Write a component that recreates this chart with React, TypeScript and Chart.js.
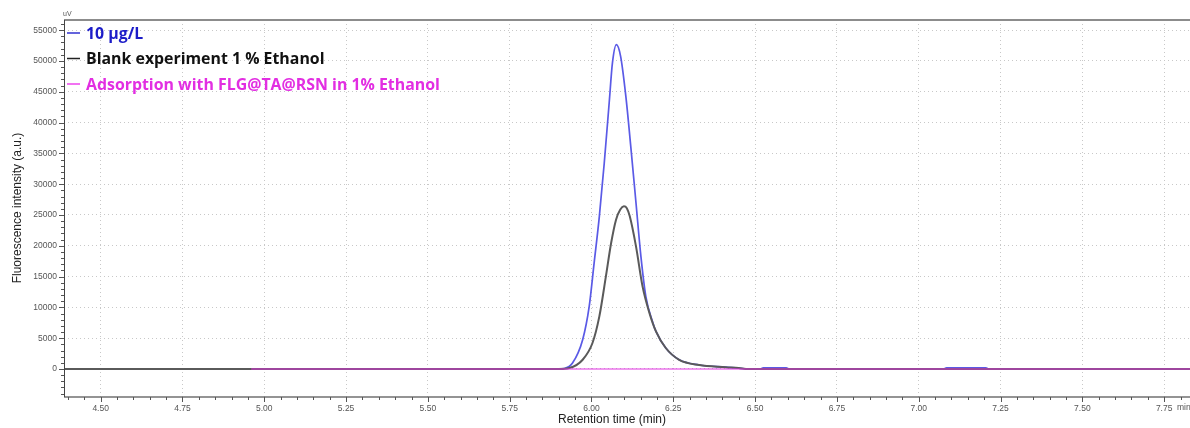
import React, { useEffect, useRef } from 'react';
import { Chart, registerables } from 'chart.js';

Chart.register(...registerables);

// ---- data (retention time in min, fluorescence intensity in a.u.) ----
const standardX = [4.96, 5.9, 5.917, 5.942, 5.973, 5.993, 6.008, 6.024, 6.039, 6.054, 6.064, 6.076, 6.089, 6.105, 6.12, 6.136, 6.151, 6.166, 6.187, 6.197, 6.227, 6.268, 6.329, 6.41, 6.45, 6.48, 6.515, 6.525, 6.595, 6.605, 7.075, 7.085, 7.205, 7.215, 7.829];
const standardY = [0, 0, 80, 974, 4760, 10160, 17200, 24780, 33440, 43180, 49680, 52650, 50750, 44250, 36140, 26950, 18280, 11790, 7600, 6100, 3410, 1500, 650, 300, 150, 0, 0, 200, 200, 0, 0, 200, 200, 0, 0];

const blankX = [4.388, 5.9, 5.932, 5.973, 6.003, 6.024, 6.044, 6.06, 6.075, 6.088, 6.099, 6.108, 6.117, 6.136, 6.156, 6.177, 6.197, 6.227, 6.268, 6.329, 6.41, 6.45, 6.48, 7.829];
const blankY = [0, 0, 150, 1500, 4220, 8540, 15030, 20450, 24240, 25900, 26400, 26100, 24780, 19900, 13410, 9090, 6100, 3410, 1500, 650, 300, 150, 0, 0];

const adsorptionX = [4.96, 7.829];
const adsorptionY = [0, 0];

const seriesLabels = ['10 µg/L', 'Blank experiment 1 % Ethanol', 'Adsorption with FLG@TA@RSN in 1% Ethanol'];
const xTickValues = [4.5, 4.75, 5.0, 5.25, 5.5, 5.75, 6.0, 6.25, 6.5, 6.75, 7.0, 7.25, 7.5, 7.75];
const yTickValues = [0, 5000, 10000, 15000, 20000, 25000, 30000, 35000, 40000, 45000, 50000, 55000];
const xTitle = 'Retention time (min)';
const yTitle = 'Fluorescence intensity (a.u.)';
const yUnit = 'uV';
const xUnit = 'min';

const X_MIN = 4.388;
const X_MAX = 7.829;
const Y_MIN = -4545;
const Y_MAX = 56650;

const toPoints = (xs: number[], ys: number[]) => xs.map((x, i) => ({ x, y: ys[i] }));

const decorPlugin = {
  id: 'decor',
  afterDraw(chart: any) {
    const { ctx, chartArea, scales } = chart;
    const xs = scales.x;
    const ys = scales.y;
    const { left, right, top, bottom } = chartArea;
    ctx.save();
    // frame
    ctx.strokeStyle = '#8c8c8c';
    ctx.lineWidth = 2;
    ctx.beginPath();
    ctx.moveTo(left, top);
    ctx.lineTo(right, top);
    ctx.stroke();
    ctx.strokeStyle = '#707070';
    ctx.lineWidth = 1.5;
    ctx.beginPath();
    ctx.moveTo(left, bottom);
    ctx.lineTo(right, bottom);
    ctx.stroke();
    ctx.strokeStyle = '#444';
    ctx.lineWidth = 1;
    ctx.beginPath();
    ctx.moveTo(left + 0.5, top);
    ctx.lineTo(left + 0.5, bottom);
    ctx.stroke();

    // x tick marks (major every 0.25, minor every 0.05)
    ctx.strokeStyle = '#555';
    ctx.lineWidth = 1;
    for (let k = 88; k <= 156; k++) {
      const v = k * 0.05;
      const px = Math.round(xs.getPixelForValue(v)) + 0.5;
      if (px < left || px > right) continue;
      const major = k % 5 === 0;
      ctx.beginPath();
      ctx.moveTo(px, bottom);
      ctx.lineTo(px, bottom + (major ? 5 : 3));
      ctx.stroke();
    }
    // y tick marks (major every 5000, minor every 1000)
    for (let k = -4; k <= 56; k++) {
      const v = k * 1000;
      const py = Math.round(ys.getPixelForValue(v)) + 0.5;
      if (py < top || py > bottom) continue;
      const major = k % 5 === 0;
      ctx.beginPath();
      ctx.moveTo(left, py);
      ctx.lineTo(left - (major ? 5 : 3), py);
      ctx.stroke();
    }

    // units
    ctx.fillStyle = '#555';
    ctx.font = '7px "Liberation Sans", Arial, sans-serif';
    ctx.textAlign = 'left';
    ctx.textBaseline = 'middle';
    ctx.fillText(yUnit, left - 1, 14);
    ctx.font = '8.5px "Liberation Sans", Arial, sans-serif';
    ctx.fillText(xUnit, 1177, bottom + 11);

    // axis titles
    ctx.fillStyle = '#222';
    ctx.font = '12px "Liberation Sans", Arial, sans-serif';
    ctx.textAlign = 'center';
    ctx.fillText(xTitle, 612, 420);
    ctx.save();
    ctx.translate(18, 208);
    ctx.rotate(-Math.PI / 2);
    ctx.fillText(yTitle, 0, 0);
    ctx.restore();

    // legend
    const legendColors = ['#1c1cc8', '#111111', '#e22ee2'];
    const dashColors = ['#3030d0', '#222222', '#ee44ee'];
    const legendY = [33, 58.5, 84];
    ctx.font = 'bold 16px "Open Sans", sans-serif';
    const w = ctx.measureText(seriesLabels[2]).width;
    const size = (16 * 354) / w;
    ctx.font = `bold ${size.toFixed(2)}px "Open Sans", sans-serif`;
    ctx.textAlign = 'left';
    ctx.textBaseline = 'middle';
    seriesLabels.forEach((lab, i) => {
      ctx.strokeStyle = dashColors[i];
      ctx.lineWidth = 1.5;
      ctx.beginPath();
      ctx.moveTo(67, legendY[i]);
      ctx.lineTo(80, legendY[i]);
      ctx.stroke();
      ctx.fillStyle = legendColors[i];
      ctx.fillText(lab, 86, legendY[i] + 1);
    });
    ctx.restore();
  },
};

export default function App() {
  const ref = useRef<HTMLCanvasElement | null>(null);
  useEffect(() => {
    if (!ref.current) return;
    const chart = new Chart(ref.current, {
      type: 'line',
      data: {
        datasets: [
          {
            label: seriesLabels[0],
            data: toPoints(standardX, standardY),
            borderColor: '#5a5ae6',
            borderWidth: 1.7,
            pointRadius: 0,
            cubicInterpolationMode: 'monotone',
            order: 2,
          },
          {
            label: seriesLabels[1],
            data: toPoints(blankX, blankY),
            borderColor: '#5a5a5a',
            borderWidth: 2,
            pointRadius: 0,
            cubicInterpolationMode: 'monotone',
            order: 1,
          },
          {
            label: seriesLabels[2],
            data: toPoints(adsorptionX, adsorptionY),
            borderColor: 'rgba(225,50,225,0.5)',
            borderWidth: 2,
            pointRadius: 0,
            order: 0,
          },
        ],
      },
      options: {
        animation: false,
        responsive: false,
        events: [],
        layout: { padding: { top: 20, left: 0, right: 0, bottom: 0 } },
        plugins: { legend: { display: false }, tooltip: { enabled: false }, title: { display: false } },
        scales: {
          x: {
            type: 'linear',
            min: X_MIN,
            max: X_MAX,
            afterBuildTicks: (s: any) => {
              s.ticks = xTickValues.map((v) => ({ value: v }));
            },
            afterFit: (s: any) => {
              s.height = 31;
            },
            ticks: {
              callback: (v: any) => Number(v).toFixed(2),
              font: { size: 8.5, family: '"Liberation Sans", Arial, sans-serif' },
              color: '#555',
              maxRotation: 0,
              autoSkip: false,
              padding: 7,
            },
            grid: { color: '#c8c8c8', lineWidth: 1, drawTicks: false },
            border: { display: false, dash: [1, 3] },
          },
          y: {
            type: 'linear',
            min: Y_MIN,
            max: Y_MAX,
            afterBuildTicks: (s: any) => {
              s.ticks = yTickValues.map((v) => ({ value: v }));
            },
            afterFit: (s: any) => {
              s.width = 64;
            },
            ticks: {
              callback: (v: any) => String(v),
              font: { size: 8.5, family: '"Liberation Sans", Arial, sans-serif' },
              color: '#555',
              autoSkip: false,
              padding: 7,
            },
            grid: { color: '#c8c8c8', lineWidth: 1, drawTicks: false },
            border: { display: false, dash: [1, 3] },
          },
        },
      },
      plugins: [decorPlugin],
    } as any);
    return () => chart.destroy();
  }, []);
  return (
    <div style={{ position: 'absolute', left: 0, top: 0, width: 1190, height: 428, background: '#fff', overflow: 'hidden' }}>
      <canvas ref={ref} width={1190} height={428} style={{ display: 'block' }} />
    </div>
  );
}
